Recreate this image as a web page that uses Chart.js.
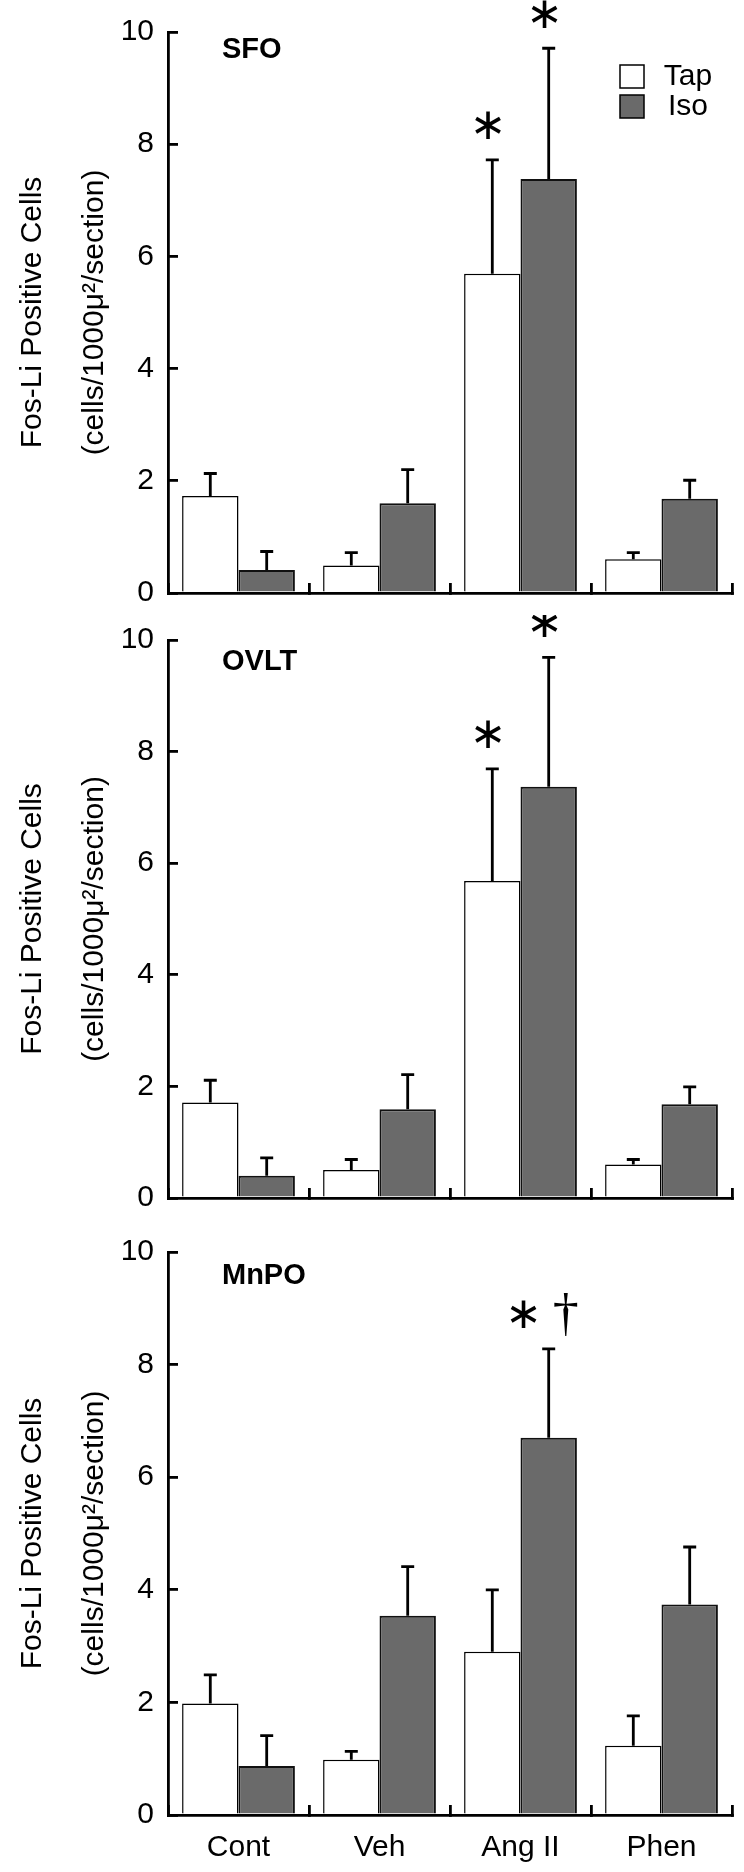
<!DOCTYPE html>
<html>
<head>
<meta charset="utf-8">
<script src="https://cdn.jsdelivr.net/npm/chart.js@4.4.1/dist/chart.umd.min.js"></script>
<style>
  body { margin: 0; background: #fff; }
  canvas { display: block; }
</style>
</head>
<body>
<canvas id="sfo" width="744" height="615"></canvas>
<canvas id="ovlt" width="744" height="610"></canvas>
<canvas id="mnpo" width="744" height="647"></canvas>
<script>
const categories = ["Cont", "Veh", "Ang II", "Phen"];
const seriesNames = ["Tap", "Iso"];
const yTicks = [0, 2, 4, 6, 8, 10];
const yTitle = ["Fos-Li Positive Cells", "(cells/1000\u03bc\u00b2/section)"];

// SFO
const sfoTap = [1.73, 0.49, 5.69, 0.60];
const sfoTapErr = [0.40, 0.23, 2.03, 0.12];
const sfoIso = [0.41, 1.60, 7.38, 1.68];
const sfoIsoErr = [0.33, 0.60, 2.33, 0.33];
const sfoMarksTap = ["", "", "\u2217", ""];
const sfoMarksIso = ["", "", "\u2217", ""];

// OVLT
const ovltTap = [1.71, 0.50, 5.68, 0.60];
const ovltTapErr = [0.40, 0.19, 2.01, 0.09];
const ovltIso = [0.40, 1.59, 7.37, 1.68];
const ovltIsoErr = [0.32, 0.62, 2.32, 0.31];
const ovltMarksTap = ["", "", "\u2217", ""];
const ovltMarksIso = ["", "", "\u2217", ""];

// MnPO
const mnpoTap = [1.98, 0.98, 2.90, 1.23];
const mnpoTapErr = [0.51, 0.15, 1.10, 0.53];
const mnpoIso = [0.87, 3.54, 6.70, 3.74];
const mnpoIsoErr = [0.54, 0.87, 1.58, 1.02];
const mnpoMarksTap = ["", "", "", ""];
const mnpoMarksIso = ["", "", "\u2217 \u2020", ""];

const FONT = "'Liberation Sans', Arial, sans-serif";
const isoColor = "#6a6a6a";

// asterisk and dagger look best in different faces
function markFont(glyph) {
  return glyph === "\u2020" ? "52px 'Liberation Serif', serif" : "44px 'DejaVu Sans', sans-serif";
}

function makePanel(id, name, tap, tapErr, iso, isoErr, marksTap, marksIso, o) {
  const panelPlugin = {
    id: "panelExtras",
    afterDatasetsDraw(chart) {
      const ctx = chart.ctx;
      const y = chart.scales.y;
      const area = chart.chartArea;
      ctx.save();
      // error bars + significance marks
      chart.data.datasets.forEach((ds, i) => {
        chart.getDatasetMeta(i).data.forEach((bar, j) => {
          const top = y.getPixelForValue(ds.data[j] + ds.errors[j]);
          ctx.strokeStyle = "#000";
          ctx.lineWidth = 2.8;
          ctx.beginPath();
          ctx.moveTo(bar.x, bar.y);
          ctx.lineTo(bar.x, top);
          ctx.moveTo(bar.x - 6.5, top);
          ctx.lineTo(bar.x + 6.5, top);
          ctx.stroke();
          if (ds.marks[j]) {
            const glyphs = ds.marks[j].split(" ");
            const x0 = bar.x - 4 - (glyphs.length - 1) * 21;
            ctx.fillStyle = "#000";
            ctx.textAlign = "center";
            ctx.textBaseline = "middle";
            glyphs.forEach((g, k) => {
              ctx.font = markFont(g);
              ctx.fillText(g, x0 + k * 42, top - 32);
            });
          }
        });
      });
      // panel name
      ctx.fillStyle = "#000";
      ctx.font = "bold 29px " + FONT;
      ctx.textAlign = "left";
      ctx.textBaseline = "middle";
      ctx.fillText(name, area.left + 54, area.top + o.nameDy);
      // legend
      if (o.legend) {
        chart.data.datasets.forEach((ds, i) => {
          const bx = area.right - 112, by = area.top + 33 + i * 30;
          ctx.fillStyle = ds.backgroundColor;
          ctx.fillRect(bx, by, 24, 23);
          ctx.lineWidth = 1.5;
          ctx.strokeStyle = "#000";
          ctx.strokeRect(bx, by, 24, 23);
          ctx.fillStyle = "#000";
          ctx.font = "30px " + FONT;
          ctx.textAlign = "center";
          ctx.fillText(ds.label, area.right - 44, by + 12);
        });
      }
      ctx.restore();
    }
  };

  return new Chart(document.getElementById(id), {
    type: "bar",
    data: {
      labels: categories,
      datasets: [
        { label: seriesNames[0], data: tap, errors: tapErr, marks: marksTap,
          backgroundColor: "#ffffff", borderColor: "#000", borderWidth: 1.5,
          categoryPercentage: 0.8, barPercentage: 1.0 },
        { label: seriesNames[1], data: iso, errors: isoErr, marks: marksIso,
          backgroundColor: isoColor, borderColor: "#111", borderWidth: 2,
          categoryPercentage: 0.8, barPercentage: 1.0 }
      ]
    },
    options: {
      responsive: false,
      animation: false,
      layout: { padding: { left: 0, right: 12, top: o.top, bottom: o.bottom } },
      plugins: { legend: { display: false }, tooltip: { enabled: false } },
      scales: {
        x: {
          grid: { offset: true, drawOnChartArea: false, tickLength: -10, color: "#000", lineWidth: 2.8 },
          border: { color: "#000", width: 2.8 },
          ticks: { display: o.xLabels, color: "#000", font: { family: FONT, size: 30 }, padding: 25 },
          afterFit: s => { s.height = o.xHeight; s.paddingLeft = 0; s.paddingRight = 0; }
        },
        y: {
          min: 0, max: 10,
          afterBuildTicks: s => { s.ticks = yTicks.map(v => ({ value: v })); },
          grid: { drawOnChartArea: false, tickLength: -10, color: "#000", lineWidth: 2.8 },
          border: { color: "#000", width: 2.8 },
          ticks: { color: "#000", font: { family: FONT, size: 30 }, padding: 24 },
          title: {
            display: true, text: yTitle, color: "#000",
            font: { family: FONT, size: 30, lineHeight: 2.07 },
            padding: { top: 2, bottom: 0 }
          },
          afterFit: s => { s.width = 168; s.paddingTop = 0; s.paddingBottom = 0; }
        }
      }
    },
    plugins: [panelPlugin]
  });
}

makePanel("sfo", "SFO", sfoTap, sfoTapErr, sfoIso, sfoIsoErr, sfoMarksTap, sfoMarksIso,
  { top: 32, bottom: 22, xHeight: 0, xLabels: false, legend: true, nameDy: 18 });
makePanel("ovlt", "OVLT", ovltTap, ovltTapErr, ovltIso, ovltIsoErr, ovltMarksTap, ovltMarksIso,
  { top: 25, bottom: 27, xHeight: 0, xLabels: false, legend: false, nameDy: 22 });
makePanel("mnpo", "MnPO", mnpoTap, mnpoTapErr, mnpoIso, mnpoIsoErr, mnpoMarksTap, mnpoMarksIso,
  { top: 27, bottom: 0, xHeight: 57, xLabels: true, legend: false, nameDy: 24 });
</script>
</body>
</html>
